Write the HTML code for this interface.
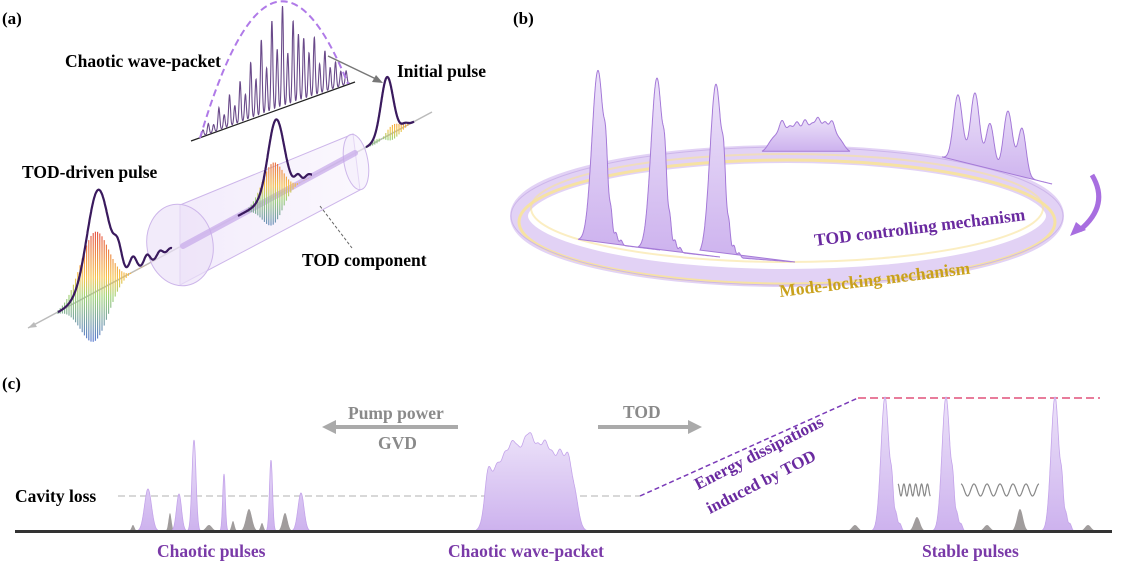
<!DOCTYPE html>
<html><head><meta charset="utf-8"><style>
html,body{margin:0;padding:0;background:#fff;}
svg{display:block;}
text{font-family:"Liberation Serif",serif;font-weight:bold;}
</style></head><body>
<svg id="s" width="1127" height="563" viewBox="0 0 1127 563" xmlns="http://www.w3.org/2000/svg">
<defs>
<linearGradient id="pf" x1="0" y1="0" x2="0" y2="1"><stop offset="0" stop-color="#ece2f9"/><stop offset="1" stop-color="#cdb2ee"/></linearGradient>
<linearGradient id="cyl" x1="0" y1="0" x2="1" y2="0"><stop offset="0" stop-color="#efe6fa" stop-opacity="0.8"/><stop offset="1" stop-color="#f6f0fc" stop-opacity="0.5"/></linearGradient>
</defs>
<g id="g"></g>
<text x="2" y="24" font-size="17">(a)</text>
<text x="65" y="67" font-size="17.5">Chaotic wave-packet</text>
<text x="397" y="77" font-size="17.5">Initial pulse</text>
<text x="22" y="178" font-size="17.5">TOD-driven pulse</text>
<text x="302" y="266" font-size="17.5">TOD component</text>
<text x="513" y="24" font-size="17">(b)</text>
<text x="815" y="246" font-size="17.5" fill="#6a2aa0" transform="rotate(-7 815 246)">TOD controlling mechanism</text>
<text x="780" y="297" font-size="17.5" fill="#c9a11c" transform="rotate(-7 780 297)">Mode-locking mechanism</text>
<text x="2" y="389" font-size="17">(c)</text>
<text x="15" y="502" font-size="17.5">Cavity loss</text>
<text x="348" y="419" font-size="17.5" fill="#8a8a8a">Pump power</text>
<text x="378" y="449" font-size="17.5" fill="#8a8a8a">GVD</text>
<text x="623" y="418" font-size="17.5" fill="#8a8a8a">TOD</text>
<text x="698" y="490" font-size="17" fill="#6a2aa0" transform="rotate(-27 698 490)">Energy dissipations</text>
<text x="710" y="514" font-size="17" fill="#6a2aa0" transform="rotate(-27 710 514)">induced by TOD</text>
<text x="157" y="557" font-size="17.5" fill="#7a3aa8">Chaotic pulses</text>
<text x="448" y="557" font-size="17.5" fill="#7a3aa8">Chaotic wave-packet</text>
<text x="922" y="557" font-size="17.5" fill="#7a3aa8">Stable pulses</text>
</svg>
<script>
var g=document.getElementById('g'),NS='http://www.w3.org/2000/svg';
function el(t,a){var e=document.createElementNS(NS,t);for(var k in a)e.setAttribute(k,a[k]);g.appendChild(e);return e;}
function G(u,w){return Math.exp(-u*u/(2*w*w));}
function val(p,x){if(p[3]==='sg'){var r=(x-p[0])/p[2];return p[1]*Math.exp(-Math.pow(r,8));}return p[1]*G(x-p[0],p[2]);}
function curve(x0,y0,x1,y1,pk,n){n=n||300;var d='';for(var i=0;i<=n;i++){var x=x0+(x1-x0)*i/n,yb=y0+(y1-y0)*i/n,v=0;pk.forEach(function(p){v+=val(p,x);});d+=(i?'L':'M')+x.toFixed(1)+','+(yb-v).toFixed(1);}return d;}
function filled(x0,y0,x1,y1,pk,fill,stroke,sw){var d=curve(x0,y0,x1,y1,pk,500);el('path',{d:d+'Z',fill:fill,stroke:stroke||'none','stroke-width':sw||1});}
el('line',{x1:432,y1:112,x2:28,y2:328,stroke:'#bbb','stroke-width':1.5});
el('path',{d:'M28,328 l9,-1 l-3,-5 z',fill:'#bbb'});
el('path',{d:'M180,205 L353,134 L360,190 L180,285 Z',fill:'url(#cyl)',stroke:'#cdb6ea','stroke-width':1});
el('ellipse',{cx:180,cy:245,rx:33,ry:41,fill:'#ece2f8','fill-opacity':0.7,stroke:'#cdb6ea',transform:'rotate(-10 180 245)'});
el('ellipse',{cx:356,cy:162,rx:12,ry:28,fill:'#f3ecfb','fill-opacity':0.6,stroke:'#cdb6ea',transform:'rotate(-10 356 162)'});
el('line',{x1:183,y1:246,x2:355,y2:153,stroke:'#c7a9ea','stroke-width':6,'stroke-linecap':'round','opacity':0.7});
el('line',{x1:320,y1:206,x2:352,y2:248,stroke:'#666','stroke-dasharray':'3,2'});
function axY(x){return 330-0.5356*(x-25);}
function pulseA(cx,h,w,ripples,xa,xb,car){
  var gid='rb'+cx;var lg=document.createElementNS(NS,'linearGradient');lg.setAttribute('id',gid);lg.setAttribute('gradientUnits','userSpaceOnUse');
  var yb=axY(cx);lg.setAttribute('x1',0);lg.setAttribute('x2',0);lg.setAttribute('y1',yb-car);lg.setAttribute('y2',yb+car*0.8);
  [['0','#e0303a'],['0.45','#f6c040'],['0.6','#9bd070'],['1','#4a6ad8']].forEach(function(s){var st=document.createElementNS(NS,'stop');st.setAttribute('offset',s[0]);st.setAttribute('stop-color',s[1]);lg.appendChild(st);});
  document.querySelector('defs').appendChild(lg);
  for(var x=xa;x<=xb;x+=2.2){var e=G(x-cx,w*1.4);var yy=axY(x);var a=Math.abs(Math.cos((x-cx)*1.4));el('line',{x1:x,y1:yy-car*e*a,x2:x,y2:yy+car*0.8*e*a,stroke:'url(#'+gid+')','stroke-width':1.1});}
  var pk=[[cx,h,w]].concat(ripples);
  el('path',{d:curve(xa,axY(xa),xb,axY(xb),pk),fill:'none',stroke:'#3a1a5e','stroke-width':2.2});
}
pulseA(98,101,11,[[118,22,4],[133,15,3.5],[147,10,3],[160,7,3],[170,4,3]],58,172,70);
pulseA(276,76,8,[[298,8,3],[308,4,3]],238,312,50);
pulseA(387,59,6,[[405,3,3]],366,414,35);
el('line',{x1:191,y1:141,x2:355,y2:82,stroke:'#222','stroke-width':1.2});
(function(){var pk=[],hs=[8,14,10,30,18,42,25,55,35,75,50,100,60,120,80,135,70,110,90,82,60,78,40,55,30,35,20,18];
for(var i=0;i<hs.length;i++){var x=203+i*5.3;pk.push([x,hs[i]*0.75,0.9]);}
el('path',{d:curve(200,137,350,83,pk,800),fill:'none',stroke:'#6a4a8a','stroke-width':1.1});})();
el('path',{d:'M200,138 Q272,-105 348,84',fill:'none',stroke:'#b07ae8','stroke-width':2,'stroke-dasharray':'7,4'});
el('line',{x1:328,y1:56,x2:376,y2:79,stroke:'#777','stroke-width':1.5});
el('path',{d:'M383,83 l-11,-1 l4,-7 z',fill:'#777'});
el('ellipse',{cx:787,cy:216,rx:268,ry:62,fill:'none',stroke:'#e2d2f5','stroke-width':18});
el('ellipse',{cx:787,cy:222,rx:268,ry:62,fill:'none',stroke:'#f8e39a','stroke-width':3,opacity:0.9});
el('ellipse',{cx:787,cy:208,rx:256,ry:54,fill:'none',stroke:'#f8e39a','stroke-width':2,opacity:0.6});
el('ellipse',{cx:787,cy:216,rx:276,ry:69,fill:'none',stroke:'#cdb6ea','stroke-width':1});
function ringPulse(x0,y0,x1,y1,pk){filled(x0,y0,x1,y1,pk,'url(#pf)','#a57ad8',1);}
ringPulse(578,240,660,250,[[598,172,6],[606,40,1.8],[611,20,1.5],[616,10,1.5],[621,5,1.5]]);
ringPulse(638,248,720,257,[[657,172,6],[665,40,1.8],[670,20,1.5],[675,10,1.5],[680,5,1.5]]);
ringPulse(700,255,795,262,[[716,172,6],[724,40,1.8],[729,20,1.5],[734,10,1.5],[739,5,1.5]]);
ringPulse(762,152,850,152,[[806,20,38,'sg'],[782,12,2.5],[790,6,2.5],[797,10,2.5],[805,12,2.5],[812,8,2.5],[818,14,2.5],[825,10,2.5],[832,12,2.5]]);
ringPulse(942,157,1052,184,[[958,66,4.5],[975,72,4.5],[990,45,4],[1008,62,4.5],[1022,48,4]]);
el('path',{d:'M1092,175 Q1110,205 1080,230',fill:'none',stroke:'#a86ee0','stroke-width':5});
el('path',{d:'M1070,236 l6,-14 l10,8 z',fill:'#a86ee0'});
el('line',{x1:118,y1:496,x2:640,y2:496,stroke:'#ccc','stroke-width':1.5,'stroke-dasharray':'7,4'});
el('line',{x1:640,y1:496,x2:858,y2:398,stroke:'#7a3ab8','stroke-width':1.5,'stroke-dasharray':'5,3'});
el('line',{x1:858,y1:398,x2:1100,y2:398,stroke:'#e0507a','stroke-width':1.5,'stroke-dasharray':'8,4'});
el('line',{x1:458,y1:427,x2:335,y2:427,stroke:'#aaa','stroke-width':4});
el('path',{d:'M322,427 l14,-7 l0,14 z',fill:'#aaa'});
el('line',{x1:598,y1:427,x2:688,y2:427,stroke:'#aaa','stroke-width':4});
el('path',{d:'M702,427 l-14,-7 l0,14 z',fill:'#aaa'});
function gray(pk,x0,x1){filled(x0,531,x1,531,pk,'#a09c9c');}
gray([[133,6,1.5],[170,18,1.5],[209,6,3],[233,10,1.5],[249,22,3],[262,8,1.5],[285,18,2.5]],125,295);
gray([[855,6,3],[917,14,3],[987,6,3],[1020,22,3],[1088,6,3]],845,1100);
function pur(pk,x0,x1){filled(x0,531,x1,531,pk,'url(#pf)','#c4a4ea',0.8);}
pur([[148,42,3.5],[179,37,2.5],[194,91,2],[224,57,1.3],[271,71,1.5],[301,38,3]],138,312);
pur([[531,58,46,'sg'],[488,30,3],[497,14,3],[505,20,3],[512,28,3],[518,22,3],[525,30,3],[531,34,3],[538,26,3],[545,30,3],[552,20,3],[560,24,3],[568,28,3],[575,12,3]],476,590);
[885,946,1055].forEach(function(x){pur([[x,134,4],[x+7,30,1.5],[x+11,15,1.5],[x+15,7,1.5]],x-20,x+25);});
(function(){var d='';for(var i=0;i<=120;i++){var x=898+i*0.27,y=490-6*Math.cos(i/120*Math.PI*11);d+=(i?'L':'M')+x+','+y;}el('path',{d:d,fill:'none',stroke:'#888','stroke-width':1.2});
d='';for(var i=0;i<=200;i++){var x=961+i*0.39,y=490-6*Math.cos(i/200*Math.PI*12);d+=(i?'L':'M')+x+','+y;}el('path',{d:d,fill:'none',stroke:'#888','stroke-width':1.2});})();
el('line',{x1:15,y1:531.5,x2:1112,y2:531.5,stroke:'#333','stroke-width':3});
</script>
</body></html>
